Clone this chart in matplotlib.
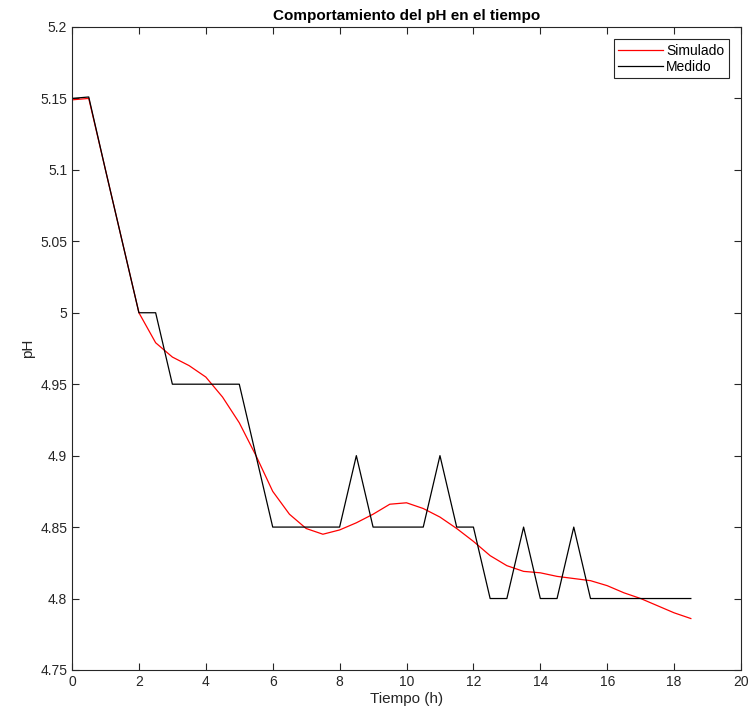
import matplotlib.pyplot as plt

plt.rcParams['font.family'] = ['Liberation Sans', 'DejaVu Sans']

# tiempo en horas
t = [0, 0.5, 1, 1.5, 2, 2.5, 3, 3.5, 4, 4.5, 5, 5.5, 6, 6.5, 7, 7.5, 8, 8.5, 9,
     9.5, 10, 10.5, 11, 11.5, 12, 12.5, 13, 13.5, 14, 14.5, 15, 15.5, 16, 16.5,
     17, 17.5, 18, 18.5]

simulado = [5.149, 5.150, 5.100, 5.050, 5.000, 4.979, 4.969, 4.963, 4.955, 4.941,
            4.923, 4.900, 4.875, 4.859, 4.849, 4.845, 4.848, 4.853, 4.859, 4.866,
            4.867, 4.863, 4.857, 4.849, 4.840, 4.830, 4.823, 4.819, 4.818, 4.8155,
            4.814, 4.8125, 4.809, 4.804, 4.800, 4.795, 4.790, 4.786]

medido = [5.15, 5.151, 5.10, 5.05, 5.00, 5.00, 4.95, 4.95, 4.95, 4.95, 4.95, 4.90,
          4.85, 4.85, 4.85, 4.85, 4.85, 4.90, 4.85, 4.85, 4.85, 4.85, 4.90, 4.85,
          4.85, 4.80, 4.80, 4.85, 4.80, 4.80, 4.85, 4.80, 4.80, 4.80, 4.80, 4.80,
          4.80, 4.80]

fig = plt.figure(figsize=(7.51, 7.25), dpi=100)
ax = fig.add_axes([0.0959, 0.0759, 0.8908, 0.8869])

ax.plot(t, simulado, color=(1, 0, 0), lw=0.9, label='Simulado')
ax.plot(t, medido, color='black', lw=0.9, label='Medido')

ax.set_xlim(0, 20)
ax.set_ylim(4.75, 5.2)
ax.set_xticks(range(0, 21, 2))
ax.set_yticks([4.75, 4.8, 4.85, 4.9, 4.95, 5, 5.05, 5.1, 5.15, 5.2])
ax.set_yticklabels(['4.75', '4.8', '4.85', '4.9', '4.95', '5', '5.05', '5.1', '5.15', '5.2'])

grey = (0.15, 0.15, 0.15)
for s in ax.spines.values():
    s.set_color(grey)
    s.set_linewidth(0.8)
ax.tick_params(direction='in', top=True, right=True, colors=grey,
               labelsize=10, length=5, width=0.8)

ax.set_xlabel('Tiempo (h)', fontsize=11, color=grey, labelpad=2)
ax.set_ylabel('pH', fontsize=11, color=grey, labelpad=4)
ax.set_title('Comportamiento del pH en el tiempo', fontsize=11, fontweight='bold', pad=5)

leg = ax.legend(loc='upper right', fontsize=10, fancybox=False, edgecolor=grey,
                framealpha=1, handlelength=3.2, borderaxespad=0.9,
                handletextpad=0.25, borderpad=0.3, labelspacing=0.15)
leg.get_frame().set_linewidth(0.8)

fig.savefig('out.png', dpi=100)
